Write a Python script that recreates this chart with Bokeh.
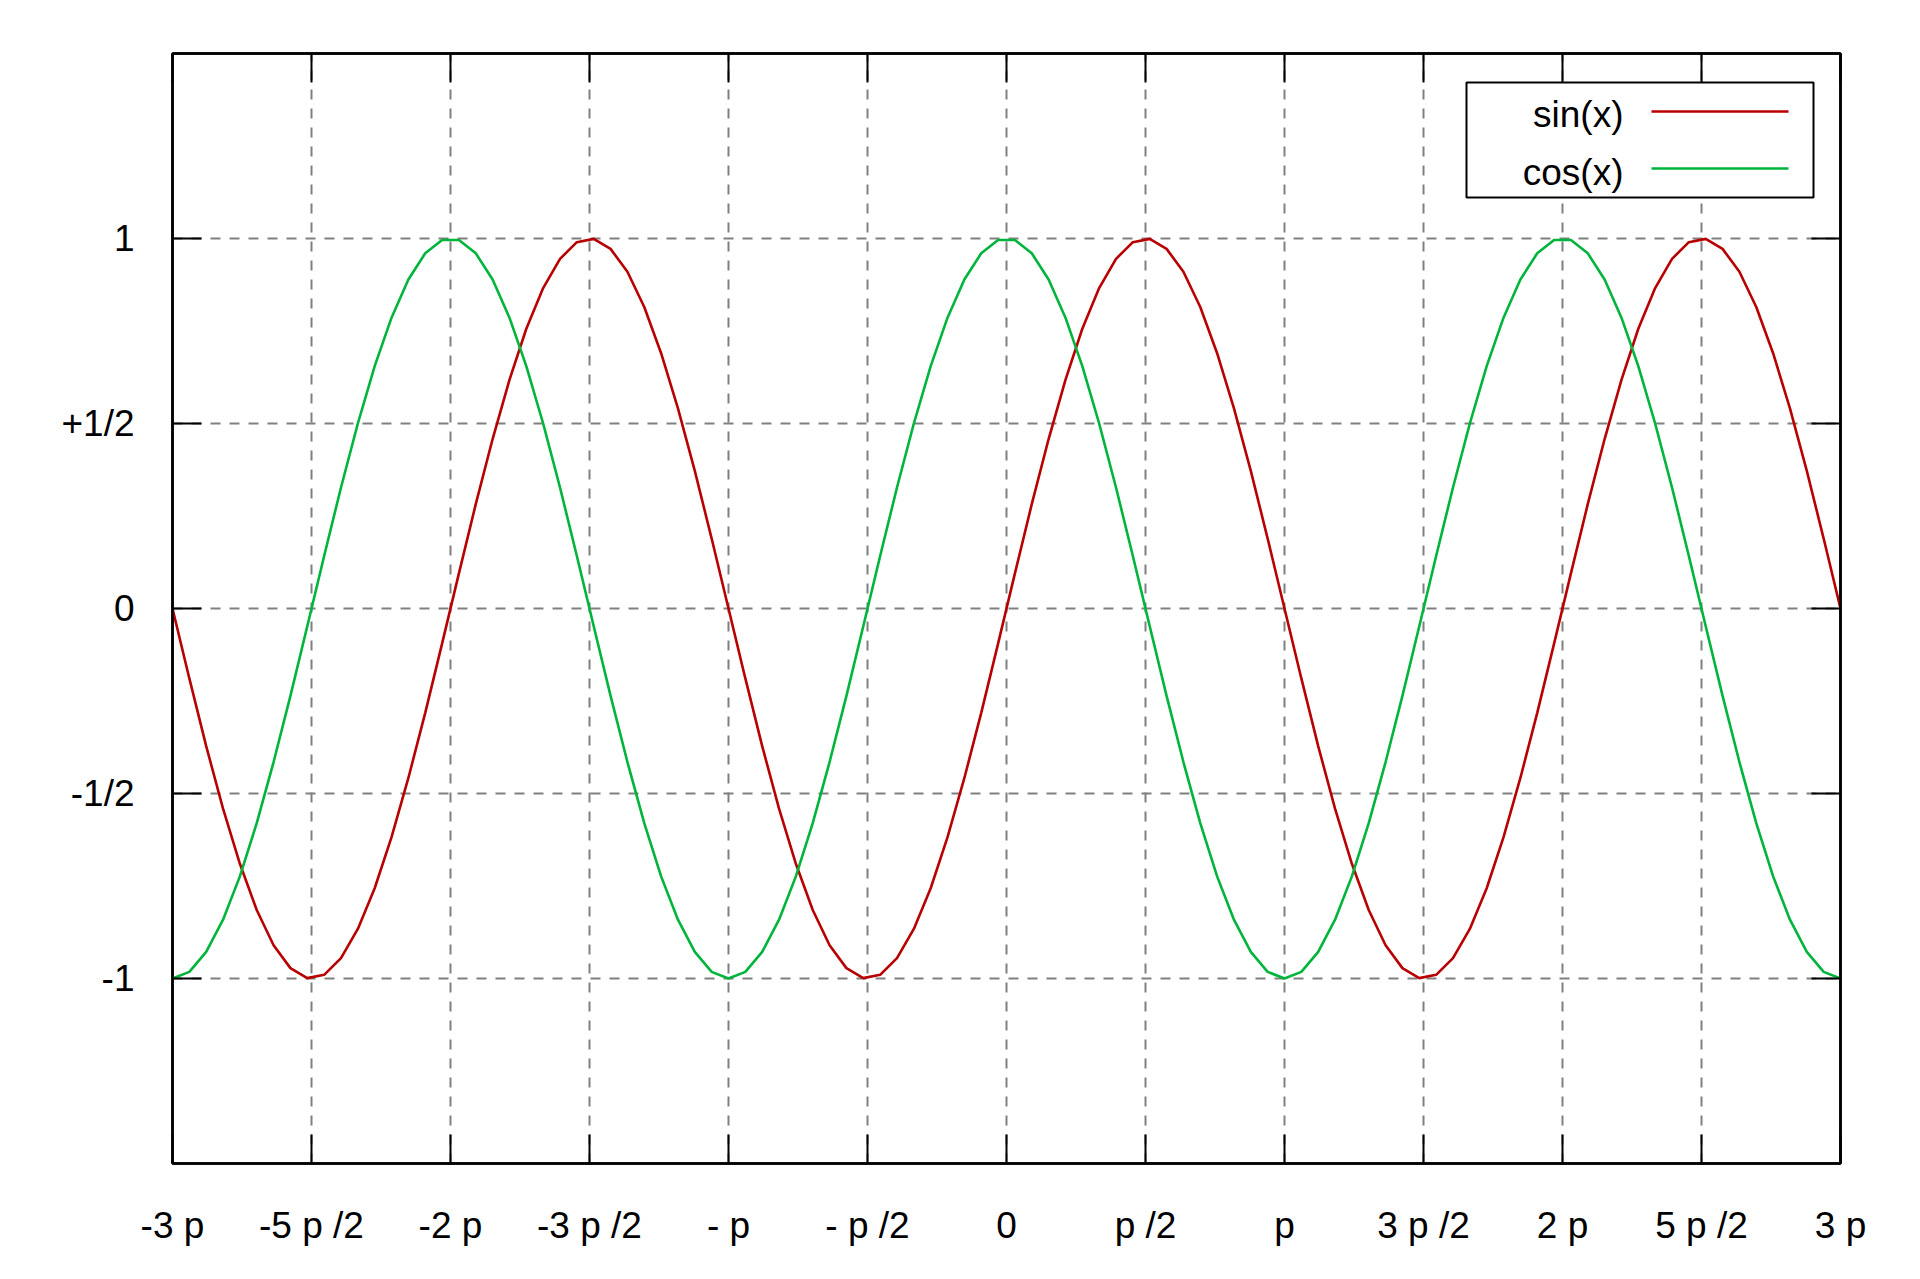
from bokeh.plotting import figure
from bokeh.models import FixedTicker, LinearAxis, Range1d, BoxAnnotation, Arrow, Label
from bokeh.embed import file_html
from bokeh.resources import INLINE

# sample positions, in units of pi (100 samples from -3 pi to 3 pi)
x_pi = [
    -3.0000, -2.9394, -2.8788, -2.8182, -2.7576, -2.6970, -2.6364, -2.5758, -2.5152, -2.4545,
    -2.3939, -2.3333, -2.2727, -2.2121, -2.1515, -2.0909, -2.0303, -1.9697, -1.9091, -1.8485,
    -1.7879, -1.7273, -1.6667, -1.6061, -1.5455, -1.4848, -1.4242, -1.3636, -1.3030, -1.2424,
    -1.1818, -1.1212, -1.0606, -1.0000, -0.9394, -0.8788, -0.8182, -0.7576, -0.6970, -0.6364,
    -0.5758, -0.5152, -0.4545, -0.3939, -0.3333, -0.2727, -0.2121, -0.1515, -0.0909, -0.0303,
    0.0303, 0.0909, 0.1515, 0.2121, 0.2727, 0.3333, 0.3939, 0.4545, 0.5152, 0.5758,
    0.6364, 0.6970, 0.7576, 0.8182, 0.8788, 0.9394, 1.0000, 1.0606, 1.1212, 1.1818,
    1.2424, 1.3030, 1.3636, 1.4242, 1.4848, 1.5455, 1.6061, 1.6667, 1.7273, 1.7879,
    1.8485, 1.9091, 1.9697, 2.0303, 2.0909, 2.1515, 2.2121, 2.2727, 2.3333, 2.3939,
    2.4545, 2.5152, 2.5758, 2.6364, 2.6970, 2.7576, 2.8182, 2.8788, 2.9394, 3.0000,
]

sin_x = [
    0.000, -0.189, -0.372, -0.541, -0.690, -0.815, -0.910, -0.972, -0.999, -0.990,
    -0.945, -0.866, -0.756, -0.618, -0.458, -0.282, -0.095, 0.095, 0.282, 0.458,
    0.618, 0.756, 0.866, 0.945, 0.990, 0.999, 0.972, 0.910, 0.815, 0.690,
    0.541, 0.372, 0.189, 0.000, -0.189, -0.372, -0.541, -0.690, -0.815, -0.910,
    -0.972, -0.999, -0.990, -0.945, -0.866, -0.756, -0.618, -0.458, -0.282, -0.095,
    0.095, 0.282, 0.458, 0.618, 0.756, 0.866, 0.945, 0.990, 0.999, 0.972,
    0.910, 0.815, 0.690, 0.541, 0.372, 0.189, 0.000, -0.189, -0.372, -0.541,
    -0.690, -0.815, -0.910, -0.972, -0.999, -0.990, -0.945, -0.866, -0.756, -0.618,
    -0.458, -0.282, -0.095, 0.095, 0.282, 0.458, 0.618, 0.756, 0.866, 0.945,
    0.990, 0.999, 0.972, 0.910, 0.815, 0.690, 0.541, 0.372, 0.189, 0.000,
]

cos_x = [
    -1.000, -0.982, -0.928, -0.841, -0.724, -0.580, -0.415, -0.236, -0.048, 0.142,
    0.327, 0.500, 0.655, 0.786, 0.889, 0.960, 0.996, 0.996, 0.960, 0.889,
    0.786, 0.655, 0.500, 0.327, 0.142, -0.048, -0.236, -0.415, -0.580, -0.724,
    -0.841, -0.928, -0.982, -1.000, -0.982, -0.928, -0.841, -0.724, -0.580, -0.415,
    -0.236, -0.048, 0.142, 0.327, 0.500, 0.655, 0.786, 0.889, 0.960, 0.996,
    0.996, 0.960, 0.889, 0.786, 0.655, 0.500, 0.327, 0.142, -0.048, -0.236,
    -0.415, -0.580, -0.724, -0.841, -0.928, -0.982, -1.000, -0.982, -0.928, -0.841,
    -0.724, -0.580, -0.415, -0.236, -0.048, 0.142, 0.327, 0.500, 0.655, 0.786,
    0.889, 0.960, 0.996, 0.996, 0.960, 0.889, 0.786, 0.655, 0.500, 0.327,
    0.142, -0.048, -0.236, -0.415, -0.580, -0.724, -0.841, -0.928, -0.982, -1.000,
]

x_ticks = [-3, -2.5, -2, -1.5, -1, -0.5, 0, 0.5, 1, 1.5, 2, 2.5, 3]
x_tick_labels = ["-3 p", "-5 p /2", "-2 p", "-3 p /2", "- p", "- p /2", "0",
                 "p /2", "p", "3 p /2", "2 p", "5 p /2", "3 p"]
y_ticks = [-1, -0.5, 0, 0.5, 1]
y_tick_labels = ["-1", "-1/2", "0", "+1/2", "1"]

series_names = ["sin(x)", "cos(x)"]
series_colors = ["#b80000", "#00b43c"]

FONT = "Liberation Sans"
FSIZE = "37px"

p = figure(width=1904, height=1263, output_backend="svg", toolbar_location=None,
           x_range=Range1d(-3, 3), y_range=Range1d(-1.5, 1.5),
           min_border_left=172, min_border_right=64, min_border_top=53, min_border_bottom=100,
           background_fill_color="white", border_fill_color="white",
           outline_line_color="black", outline_line_width=2.5)

p.add_layout(LinearAxis(), "above")
p.add_layout(LinearAxis(), "right")

xt = FixedTicker(ticks=x_ticks)
yt = FixedTicker(ticks=y_ticks)

for ax in list(p.xaxis) + list(p.yaxis):
    ax.axis_line_color = "black"
    ax.axis_line_width = 2.5
    ax.major_tick_in = 29
    ax.major_tick_out = 0
    ax.major_tick_line_color = "black"
    ax.major_tick_line_width = 2
    ax.minor_tick_line_color = None
    ax.major_label_text_font = FONT
    ax.major_label_text_font_size = FSIZE
    ax.major_label_text_color = "black"

for ax in p.xaxis:
    ax.ticker = xt
for ax in p.yaxis:
    ax.ticker = yt

p.below[0].major_label_overrides = dict(zip(x_ticks, x_tick_labels))
p.left[0].major_label_overrides = dict(zip(y_ticks, y_tick_labels))
p.below[0].major_label_standoff = 41
p.left[0].major_label_standoff = 38

# mirrored tick marks on top and right, without labels
p.above[0].major_label_overrides = {t: "" for t in x_ticks}
p.right[0].major_label_overrides = {t: "" for t in y_ticks}
for ax in (p.above[0], p.right[0]):
    ax.major_label_standoff = 0

p.xgrid.ticker = xt
p.ygrid.ticker = yt
for g in (p.xgrid, p.ygrid):
    g.grid_line_color = "#808080"
    g.grid_line_dash = "10 9"
    g.grid_line_width = 2

for ys, c in zip([sin_x, cos_x], series_colors):
    p.line(x_pi, ys, line_color=c, line_width=2.6)

# key box (text right-aligned, sample line on its right), frame-relative pixels
p.add_layout(BoxAnnotation(left=1294, right=1641, top=1081, bottom=966,
                           left_units="screen", right_units="screen",
                           top_units="screen", bottom_units="screen",
                           fill_color="white", fill_alpha=1.0,
                           line_color="black", line_width=2, line_alpha=1.0))
for name, c, ly, ty in zip(series_names, series_colors, [1052, 995], [1049, 991]):
    p.add_layout(Arrow(x_start=1479, x_end=1616, y_start=ly, y_end=ly,
                       start_units="screen", end_units="screen",
                       start=None, end=None, line_color=c, line_width=2.6))
    p.add_layout(Label(x=1451, y=ty, x_units="screen", y_units="screen",
                       text=name, text_align="right", text_baseline="middle",
                       text_font=FONT, text_font_size=FSIZE, text_color="black"))

open("out.html", "w").write(file_html(p, INLINE))
